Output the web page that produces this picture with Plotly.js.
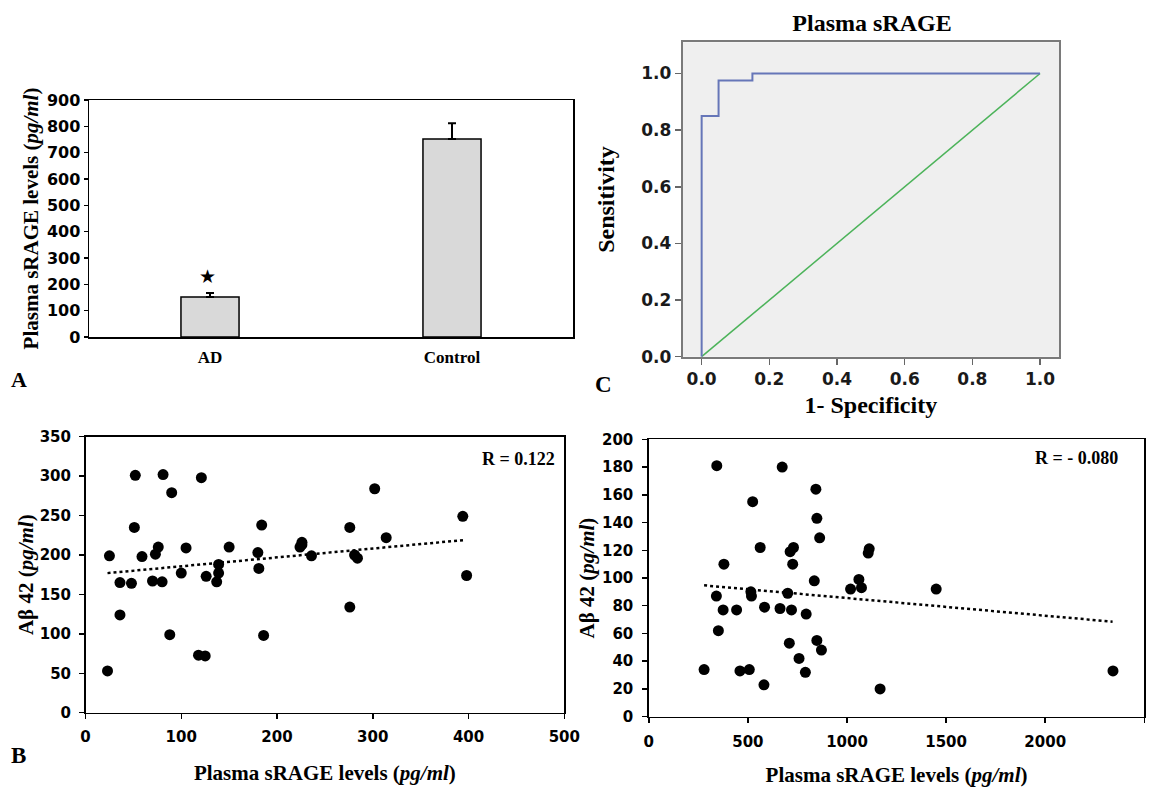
<!DOCTYPE html>
<html><head><meta charset="utf-8">
<script src="https://cdn.plot.ly/plotly-3.0.1.min.js"></script>
<style>html,body{margin:0;padding:0;background:#fff}</style>
</head><body><div id="chart" style="width:1163px;height:787px"></div>
<script>
// ---------- Panel A: bar chart ----------
const groups = ['AD', 'Control'];
const meanLevels = [152, 752];
const semLevels = [15, 60];
const starY = [233];

// ---------- Panel C: ROC curve ----------
const rocFPR = [0, 0, 0.05, 0.05, 0.15, 0.15, 1.0];
const rocTPR = [0, 0.85, 0.85, 0.975, 0.975, 1.0, 1.0];
const refFPR = [0, 1];
const refTPR = [0, 1];

// ---------- Panel B: AD scatter ----------
const adSRAGE = [23, 25, 36, 36, 48, 52, 51, 59, 70, 73, 76, 80, 81, 90, 88, 100, 105, 118, 125, 121, 126, 137, 139, 139, 150, 180, 181, 184, 186, 224, 226, 226, 236, 276, 276, 281, 284, 302, 314, 394, 398];
const adAbeta = [53, 199, 165, 124, 164, 301, 235, 198, 167, 201, 210, 166, 302, 279, 99, 177, 209, 73, 72, 298, 173, 166, 177, 188, 210, 203, 183, 238, 98, 210, 216, 213, 199, 235, 134, 200, 196, 284, 222, 249, 174];
const adTrendX = [23, 396];
const adTrendY = [177, 219];

// ---------- Panel D: control scatter ----------
const ctSRAGE = [279, 343, 341, 351, 375, 379, 443, 460, 507, 515, 518, 524, 562, 581, 584, 662, 673, 701, 709, 713, 720, 730, 726, 758, 790, 794, 835, 843, 848, 848, 862, 871, 1018, 1060, 1073, 1107, 1112, 1167, 1450, 2342];
const ctAbeta = [34, 181, 87, 62, 77, 110, 77, 33, 34, 90, 87, 155, 122, 23, 79, 78, 180, 89, 53, 119, 77, 122, 110, 42, 32, 74, 98, 164, 143, 55, 129, 48, 92, 99, 93, 118, 121, 20, 92, 33];
const ctTrendX = [279, 2340];
const ctTrendY = [94.7, 68.5];

const W = 1163, H = 787;
const serif = 'Liberation Serif, Times New Roman, serif';
const sans = 'DejaVu Sans, sans-serif';
const px = v => v / W;
const py = v => 1 - v / H;

function axis(extra) {
  return Object.assign({
    showline: true, mirror: true, linecolor: 'black', linewidth: 1.5,
    showgrid: false, zeroline: false, ticks: 'outside', ticklen: 5,
    tickwidth: 1.5, tickcolor: 'black', automargin: false, fixedrange: true,
    tickfont: {family: sans, size: 15, weight: 'bold', color: 'black'}
  }, extra);
}
function ttl(text, size, standoff) {
  return {text: text, font: {family: serif, size: size, weight: 'bold', color: 'black'}, standoff: standoff};
}

const traces = [
  {type: 'bar', x: groups, y: meanLevels, xaxis: 'x', yaxis: 'y', width: 0.24,
   marker: {color: '#d9d9d9', line: {color: 'black', width: 1.5}},
   error_y: {type: 'data', symmetric: false, array: semLevels, arrayminus: [0, 0], color: 'black', thickness: 2, width: 4},
   hoverinfo: 'skip'},
  {type: 'scatter', mode: 'lines', x: refFPR, y: refTPR, xaxis: 'x2', yaxis: 'y2',
   line: {color: '#4cb35a', width: 1.5}},
  {type: 'scatter', mode: 'lines', x: rocFPR, y: rocTPR, xaxis: 'x2', yaxis: 'y2',
   line: {color: '#6676b8', width: 2}},
  {type: 'scatter', mode: 'lines', x: adTrendX, y: adTrendY, xaxis: 'x3', yaxis: 'y3',
   line: {color: 'black', width: 2.5, dash: 'dot'}},
  {type: 'scatter', mode: 'markers', x: adSRAGE, y: adAbeta, xaxis: 'x3', yaxis: 'y3',
   marker: {color: 'black', size: 11}},
  {type: 'scatter', mode: 'lines', x: ctTrendX, y: ctTrendY, xaxis: 'x4', yaxis: 'y4',
   line: {color: 'black', width: 2.5, dash: 'dot'}},
  {type: 'scatter', mode: 'markers', x: ctSRAGE, y: ctAbeta, xaxis: 'x4', yaxis: 'y4',
   marker: {color: 'black', size: 11}}
];

const layout = {
  width: W, height: H, margin: {l: 0, r: 0, t: 0, b: 0},
  paper_bgcolor: 'white', plot_bgcolor: 'white', showlegend: false,
  title: {text: 'Plasma sRAGE', font: {family: serif, size: 24, weight: 'bold', color: 'black'},
          x: px(872), xanchor: 'center', y: py(23), yanchor: 'middle'},
  xaxis: axis({domain: [px(89), px(573)], anchor: 'y', type: 'category', range: [-0.5, 1.5], ticks: '',
               ticklabelstandoff: 4,
               tickfont: {family: serif, size: 17, weight: 'bold', color: 'black'}}),
  yaxis: axis({domain: [py(337), py(100)], anchor: 'x', range: [0, 900], dtick: 100, ticklen: 4,
               tickfont: {family: sans, size: 16, weight: 'bold', color: 'black'},
               title: ttl('Plasma sRAGE levels (<i>pg/ml</i>)', 21, 2)}),
  xaxis2: axis({domain: [px(682.7), px(1059)], anchor: 'y2', range: [-0.056, 1.056], tick0: 0, dtick: 0.2,
                tickformat: '.1f', linecolor: '#7a7a7a', linewidth: 2, tickcolor: '#666', ticklen: 6,
                tickfont: {family: sans, size: 17, weight: 'bold', color: '#1a1a1a'},
                title: ttl('1- Specificity', 24, 8)}),
  yaxis2: axis({domain: [py(356.7), py(42.3)], anchor: 'x2', range: [0, 1.11], tick0: 0, dtick: 0.2,
                tickformat: '.1f', linecolor: '#7a7a7a', linewidth: 2, tickcolor: '#666', ticklen: 6,
                tickfont: {family: sans, size: 17, weight: 'bold', color: '#1a1a1a'},
                title: ttl('Sensitivity', 24, 20)}),
  xaxis3: axis({domain: [px(85.5), px(564.3)], anchor: 'y3', range: [0, 500], dtick: 100,
                ticklabelstandoff: 5,
                title: ttl('Plasma sRAGE levels (<i>pg/ml</i>)', 21, 20)}),
  yaxis3: axis({domain: [py(712.7), py(436.7)], anchor: 'x3', range: [0, 350], dtick: 50,
                ticklabelstandoff: 5,
                title: ttl('Aβ 42 (<i>pg/ml</i>)', 21, 0)}),
  xaxis4: axis({domain: [px(648.8), px(1144.3)], anchor: 'y4', range: [0, 2500], dtick: 500,
                ticklabelstandoff: 6,
                title: ttl('Plasma sRAGE levels (<i>pg/ml</i>)', 21, 21)}),
  yaxis4: axis({domain: [py(716.7), py(439.3)], anchor: 'x4', range: [0, 200], dtick: 20,
                ticklabelstandoff: 6,
                title: ttl('Aβ 42 (<i>pg/ml</i>)', 21, 1)}),
  shapes: [
    {type: 'rect', xref: 'x2 domain', yref: 'y2 domain', x0: 0, x1: 1, y0: 0, y1: 1,
     fillcolor: '#efefef', line: {width: 0}, layer: 'below'}
  ],
  annotations: [
    {xref: 'x', yref: 'y', x: groups[0], y: starY[0], text: '★', showarrow: false, xshift: -3,
     font: {family: 'DejaVu Sans', size: 19, color: 'black'}},
    {xref: 'paper', yref: 'paper', x: px(557), y: py(459), xanchor: 'right', yanchor: 'middle',
     text: 'R = 0.122', showarrow: false, font: {family: serif, size: 18, weight: 'bold', color: 'black'}},
    {xref: 'paper', yref: 'paper', x: px(1120), y: py(458), xanchor: 'right', yanchor: 'middle',
     text: 'R = - 0.080', showarrow: false, font: {family: serif, size: 18, weight: 'bold', color: 'black'}},
    {xref: 'paper', yref: 'paper', x: px(19), y: py(379), xanchor: 'center', yanchor: 'middle',
     text: 'A', showarrow: false, font: {family: serif, size: 22, weight: 'bold', color: 'black'}},
    {xref: 'paper', yref: 'paper', x: px(18), y: py(755), xanchor: 'center', yanchor: 'middle',
     text: 'B', showarrow: false, font: {family: serif, size: 23, weight: 'bold', color: 'black'}},
    {xref: 'paper', yref: 'paper', x: px(603), y: py(384), xanchor: 'center', yanchor: 'middle',
     text: 'C', showarrow: false, font: {family: serif, size: 23, weight: 'bold', color: 'black'}}
  ]
};

Plotly.newPlot('chart', traces, layout, {displayModeBar: false, staticPlot: true});
</script></body></html>
